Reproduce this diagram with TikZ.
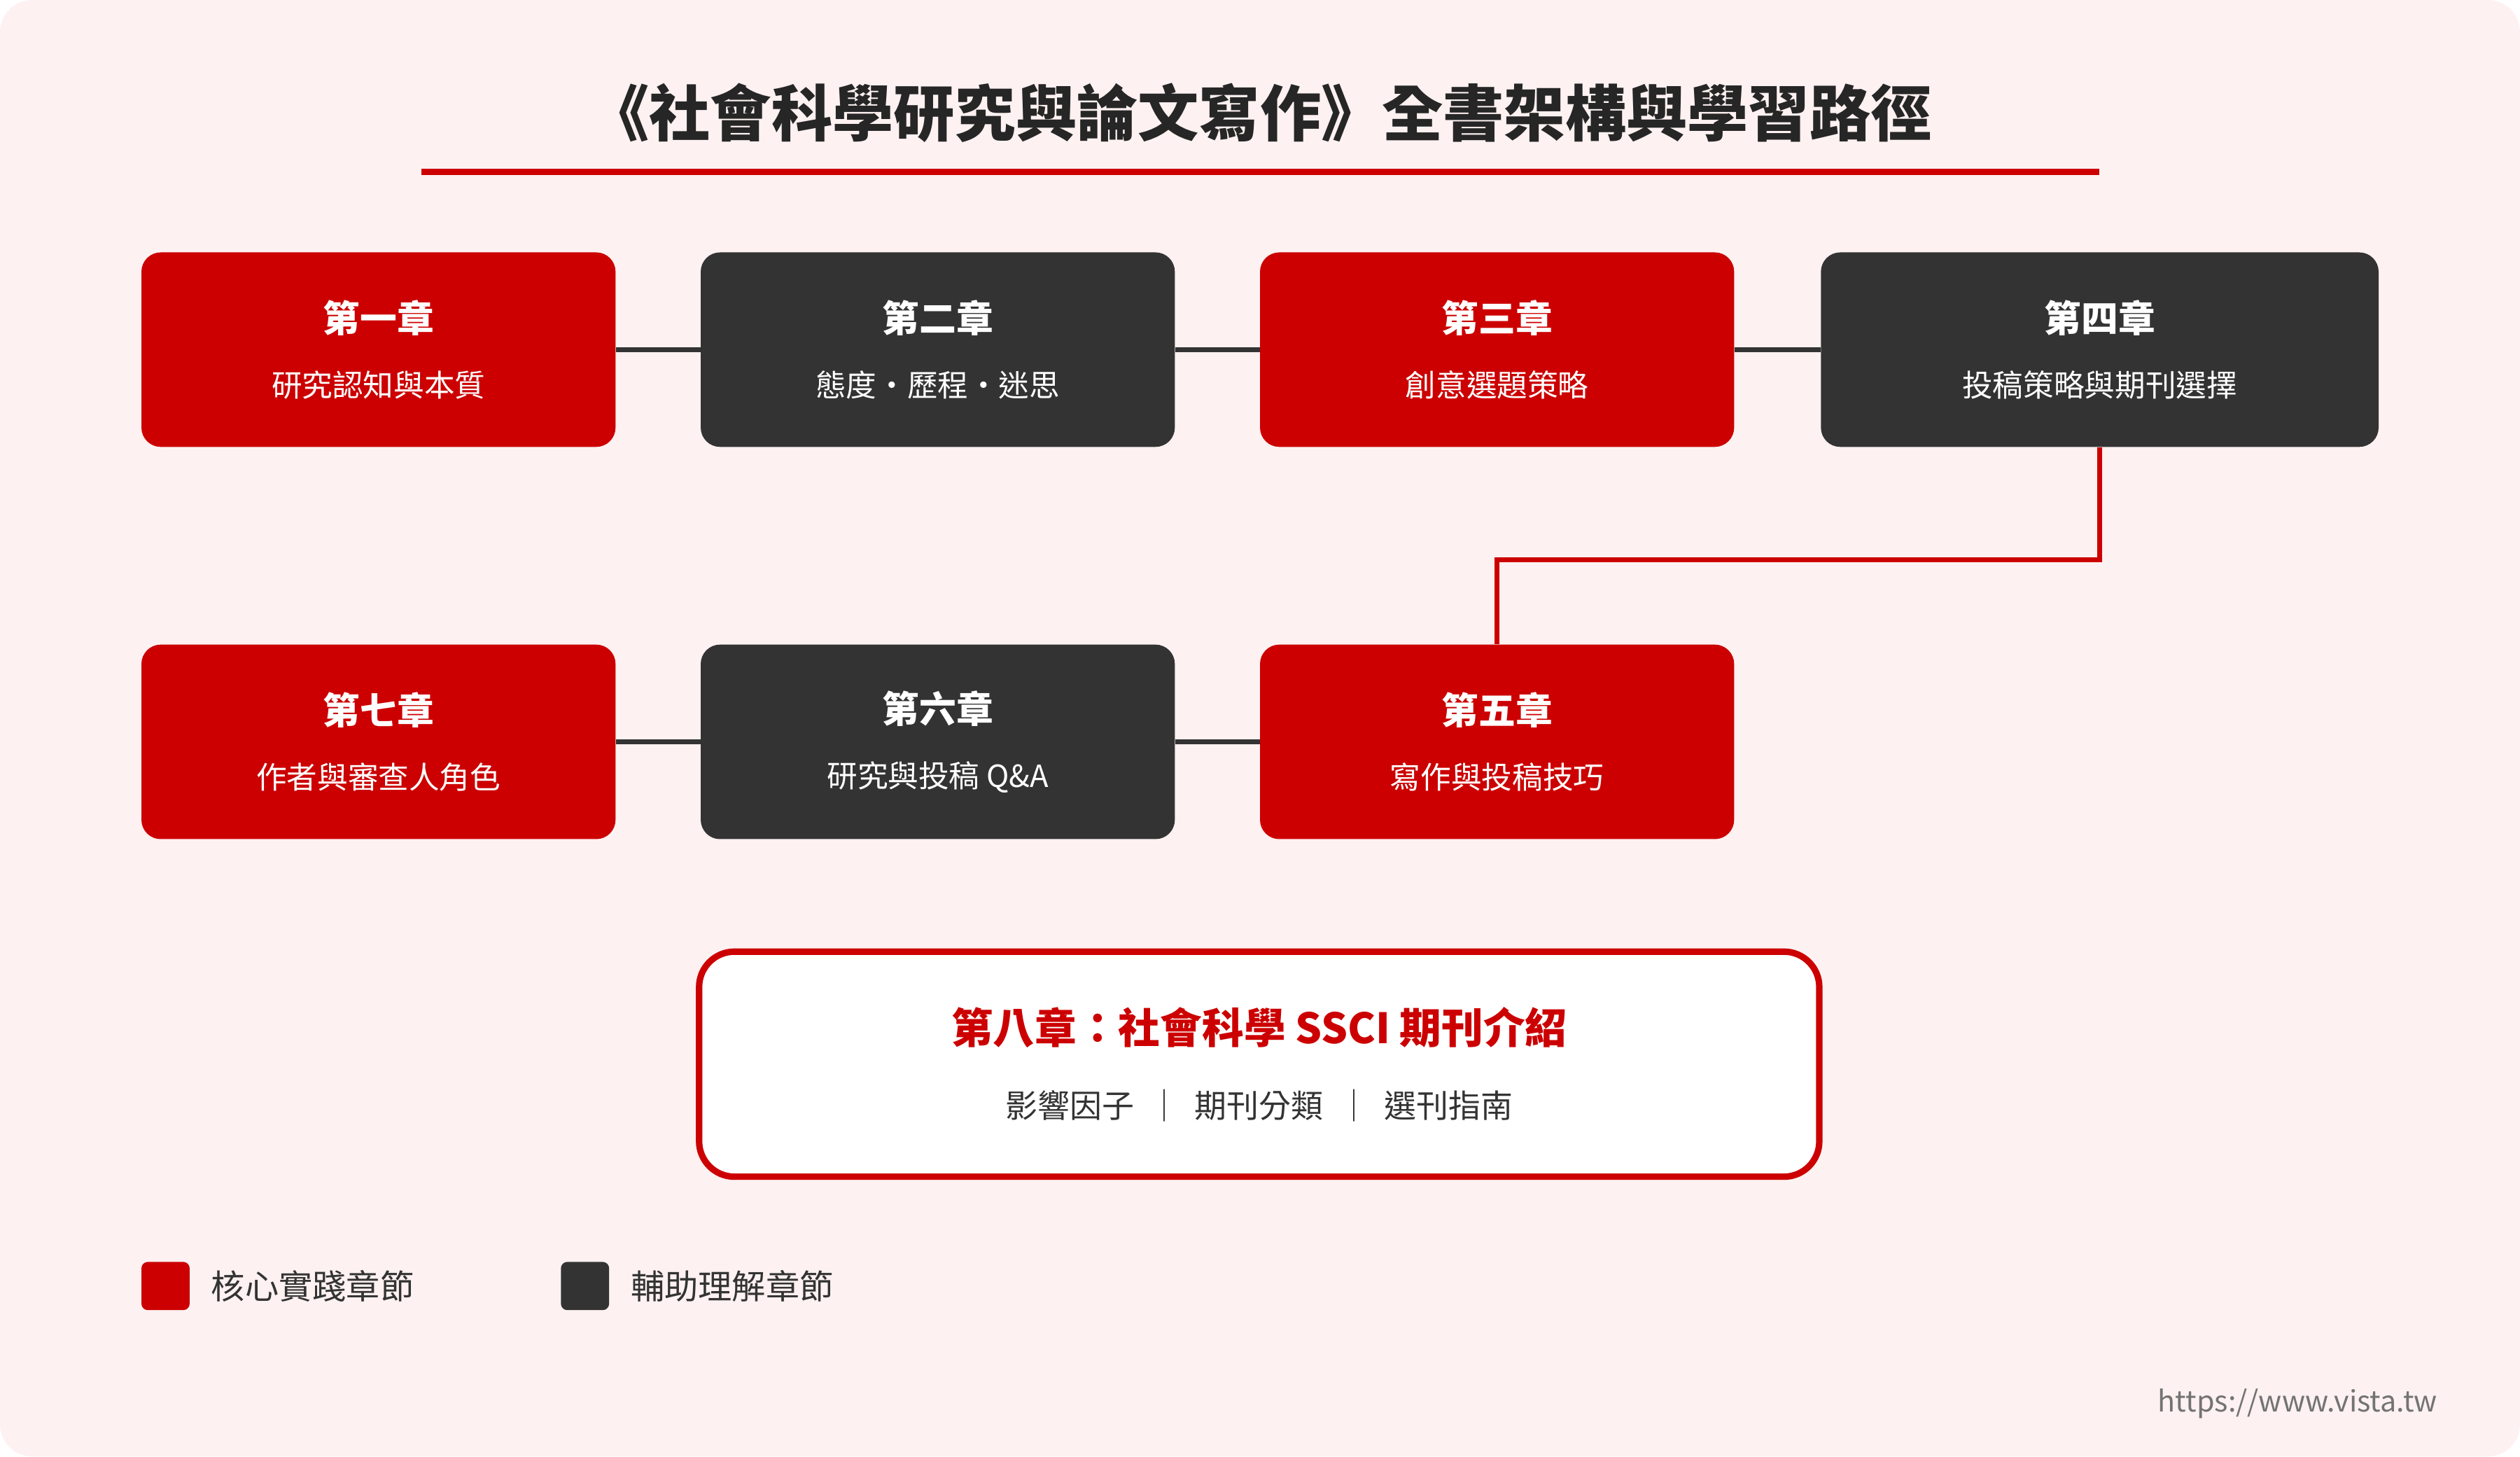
\documentclass[tikz,border=0pt]{standalone}
\usepackage{fontspec}
\setmainfont{Noto Sans CJK TC}
\usetikzlibrary{positioning,calc}
\definecolor{corered}{HTML}{CC0000}
\definecolor{auxdark}{HTML}{333333}
\definecolor{pagebg}{HTML}{FDF1F1}
\tikzset{
  chap/.style={rounded corners=12pt, minimum width=295pt, minimum height=121pt,
    text=white, align=center, font=\fontsize{19}{40}\selectfont},
  core/.style={chap, fill=corered},
  aux/.style={chap, fill=auxdark},
  link/.style={auxdark, line width=3pt},
  redlink/.style={corered, line width=3pt},
}
\newcommand{\chapttl}[1]{{\fontsize{23}{30}\selectfont\bfseries #1}}
\begin{document}
\begin{tikzpicture}[x=1pt,y=-1pt]
  \fill[pagebg, rounded corners=20pt] (0,0) rectangle (1568,906);
  \useasboundingbox (0,0) rectangle (1568,906);
  % title
  \node[font=\fontsize{38}{40}\selectfont\bfseries, text=black!85] (title) at (784,70) {《社會科學研究與論文寫作》全書架構與學習路徑};
  \draw[corered, line width=4pt] (262,107) -- (1306,107);
  % first row
  \node[core] (c1) at (235.5,217.5) {\chapttl{第一章}\\研究認知與本質};
  \node[aux] (c2) at (583.5,217.5) {\chapttl{第二章}\\態度・歷程・迷思};
  \node[core] (c3) at (931.5,217.5) {\chapttl{第三章}\\創意選題策略};
  \node[aux, minimum width=347pt] (c4) at (1306.5,217.5) {\chapttl{第四章}\\投稿策略與期刊選擇};
  % second row
  \node[core] (c7) at (235.5,461.5) {\chapttl{第七章}\\作者與審查人角色};
  \node[aux] (c6) at (583.5,461.5) {\chapttl{第六章}\\研究與投稿 Q\&A};
  \node[core] (c5) at (931.5,461.5) {\chapttl{第五章}\\寫作與投稿技巧};
  % connectors
  \draw[link] (c1) -- (c2);
  \draw[link] (c2) -- (c3);
  \draw[link] (c3) -- (c4);
  \draw[redlink] (c4.south) -- ++(0,70) -| (c5.north);
  \draw[link] (c5) -- (c6);
  \draw[link] (c6) -- (c7);
  % chapter eight
  \node[draw=corered, line width=4pt, fill=white, rounded corners=22pt,
    minimum width=697pt, minimum height=140pt, align=center,
    font=\fontsize{20}{46}\selectfont, text=auxdark] (c8) at (783.5,662)
    {{\fontsize{26}{30}\selectfont\bfseries\color{corered}第八章：社會科學 SSCI 期刊介紹}\\影響因子 \ ｜ \ 期刊分類 \ ｜ \ 選刊指南};
  % legend
  \fill[corered, rounded corners=4pt] (88,785) rectangle (118,815);
  \node[anchor=west, font=\fontsize{21}{24}\selectfont, text=auxdark] (lg1) at (128,800) {核心實踐章節};
  \fill[auxdark, rounded corners=4pt] (349,785) rectangle (379,815);
  \node[anchor=west, font=\fontsize{21}{24}\selectfont, text=auxdark] (lg2) at (389,800) {輔助理解章節};
  \node[anchor=east, font=\fontsize{18}{20}\selectfont, text=black!55] (url) at (1520,873) {https://www.vista.tw};
\end{tikzpicture}
\end{document}
